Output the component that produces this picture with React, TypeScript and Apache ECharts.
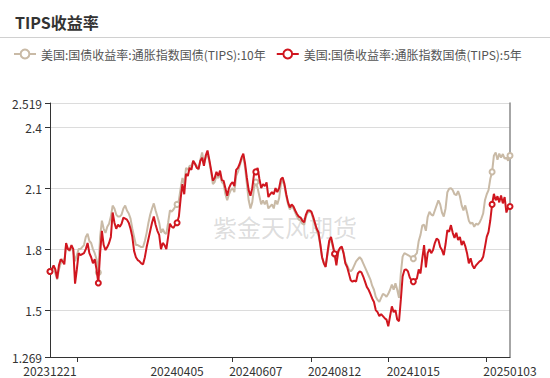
import React, { useEffect, useRef } from "react";
import * as echarts from "echarts";

const title = "TIPS收益率";
const seriesNames = ["美国:国债收益率:通胀指数国债(TIPS):10年", "美国:国债收益率:通胀指数国债(TIPS):5年"];
const watermark = "紫金天风期货";
const startDate = "20231221";
const endDate = "20250103";
const holidays = ["20231225", "20240101", "20240115", "20240219", "20240329", "20240527", "20240619", "20240704", "20240902", "20241014", "20241111", "20241128", "20241225", "20250101"];
const labelDates = ["20231221", "20240405", "20240607", "20240812", "20241015", "20250103"];
const tickIndices = [15, 102, 146, 189, 244];
const markerIndices = [0, 27, 71, 115, 159, 203, 247, 257];
const yMin = 1.269;
const yMax = 2.519;

// 10-year TIPS yield
const tips10 = [
  1.69, 1.70, 1.71, 1.68, 1.65, 1.70, 1.73, 1.75, 1.74, 1.82,
  1.80, 1.79, 1.81, 1.79, 1.74, 1.77, 1.80, 1.80, 1.81, 1.82,
  1.86, 1.876, 1.84, 1.83, 1.80, 1.78, 1.75, 1.685, 1.86, 1.94,
  1.90, 1.88, 1.91, 1.925, 1.96, 2.014, 2.00, 1.97, 1.96, 1.96,
  1.97, 2.00, 2.014, 1.99, 1.975, 1.95, 1.90, 1.86, 1.82, 1.82,
  1.815, 1.81, 1.81, 1.84, 1.88, 1.93, 1.97, 2.00, 2.025, 1.99,
  1.96, 1.93, 1.88, 1.90, 1.88, 1.875, 1.93, 1.99, 1.985, 1.995,
  2.01, 2.02, 2.04, 2.10, 2.15, 2.12, 2.20, 2.19, 2.21, 2.21,
  2.233, 2.22, 2.21, 2.19, 2.24, 2.276, 2.22, 2.25, 2.27, 2.23,
  2.18, 2.12, 2.13, 2.16, 2.15, 2.17, 2.13, 2.12, 2.07, 2.04,
  2.07, 2.09, 2.10, 2.08, 2.16, 2.18, 2.21, 2.24, 2.26, 2.20,
  2.12, 2.04, 2.00, 2.03, 2.10, 2.13, 2.10, 2.06, 2.02, 2.04,
  2.02, 2.04, 2.00, 2.01, 2.02, 2.00, 2.04, 2.02, 2.05, 2.12,
  2.14, 2.11, 2.06, 2.02, 1.995, 2.01, 2.00, 1.98, 1.96, 1.945,
  1.94, 1.925, 1.92, 1.96, 1.98, 1.985, 1.98, 1.95, 1.92, 1.89,
  1.87, 1.82, 1.76, 1.73, 1.715, 1.77, 1.83, 1.85, 1.81, 1.775,
  1.73, 1.78, 1.80, 1.81, 1.785, 1.74, 1.72, 1.70, 1.69, 1.70,
  1.72, 1.74, 1.75, 1.76, 1.75, 1.73, 1.71, 1.69, 1.67, 1.65,
  1.62, 1.60, 1.565, 1.55, 1.54, 1.56, 1.58, 1.575, 1.565, 1.58,
  1.60, 1.625, 1.60, 1.632, 1.60, 1.56, 1.68, 1.763, 1.78, 1.775,
  1.77, 1.765, 1.755, 1.753, 1.77, 1.78, 1.84, 1.87, 1.917, 1.92,
  1.89, 1.958, 1.983, 1.97, 1.965, 1.99, 2.015, 2.04, 2.02, 1.98,
  1.96, 2.00, 2.08, 2.097, 2.10, 2.09, 2.07, 2.065, 2.085, 2.06,
  2.015, 1.99, 2.015, 1.98, 1.94, 1.925, 1.93, 1.91, 1.925, 1.92,
  1.93, 1.95, 1.975, 2.04, 2.07, 2.09, 2.146, 2.18, 2.26, 2.276,
  2.24, 2.27, 2.25, 2.268, 2.245, 2.25, 2.235, 2.26,
];

// 5-year TIPS yield
const tips5 = [
  1.69, 1.70, 1.72, 1.70, 1.655, 1.72, 1.75, 1.74, 1.725, 1.83,
  1.80, 1.795, 1.82, 1.80, 1.63, 1.70, 1.78, 1.77, 1.775, 1.78,
  1.80, 1.83, 1.78, 1.76, 1.73, 1.75, 1.70, 1.633, 1.78, 1.89,
  1.82, 1.795, 1.81, 1.83, 1.86, 1.98, 1.93, 1.90, 1.92, 1.91,
  1.925, 1.955, 1.95, 1.945, 1.93, 1.90, 1.86, 1.79, 1.76, 1.746,
  1.74, 1.73, 1.725, 1.76, 1.81, 1.85, 1.89, 1.93, 1.96, 1.92,
  1.89, 1.87, 1.80, 1.83, 1.82, 1.80, 1.86, 1.925, 1.91, 1.905,
  1.92, 1.93, 1.96, 2.05, 2.12, 2.07, 2.17, 2.16, 2.20, 2.19,
  2.235, 2.22, 2.20, 2.195, 2.235, 2.25, 2.21, 2.26, 2.285, 2.24,
  2.19, 2.137, 2.15, 2.18, 2.16, 2.186, 2.14, 2.136, 2.10, 2.063,
  2.10, 2.12, 2.13, 2.11, 2.19, 2.20, 2.22, 2.25, 2.27, 2.22,
  2.15, 2.09, 2.063, 2.10, 2.17, 2.18, 2.20, 2.145, 2.10, 2.12,
  2.11, 2.128, 2.056, 2.07, 2.08, 2.07, 2.10, 2.08, 2.10, 2.144,
  2.152, 2.12, 2.07, 2.03, 2.005, 2.02, 2.01, 1.99, 1.973, 1.96,
  1.955, 1.94, 1.932, 1.97, 1.99, 1.99, 1.985, 1.96, 1.93, 1.90,
  1.883, 1.826, 1.76, 1.73, 1.712, 1.78, 1.842, 1.86, 1.82, 1.777,
  1.72, 1.79, 1.805, 1.813, 1.78, 1.73, 1.712, 1.68, 1.647, 1.64,
  1.645, 1.64, 1.68, 1.69, 1.685, 1.665, 1.64, 1.614, 1.60, 1.58,
  1.557, 1.54, 1.50, 1.49, 1.47, 1.48, 1.47, 1.46, 1.453, 1.42,
  1.47, 1.518, 1.49, 1.50, 1.453, 1.445, 1.55, 1.665, 1.697, 1.70,
  1.69, 1.66, 1.645, 1.64, 1.65, 1.655, 1.70, 1.68, 1.754, 1.82,
  1.71, 1.78, 1.80, 1.78, 1.795, 1.83, 1.852, 1.845, 1.81, 1.795,
  1.77, 1.825, 1.893, 1.885, 1.918, 1.88, 1.855, 1.88, 1.845, 1.86,
  1.82, 1.84, 1.815, 1.78, 1.73, 1.755, 1.72, 1.705, 1.72, 1.73,
  1.74, 1.745, 1.762, 1.81, 1.86, 1.885, 1.942, 2.02, 2.072, 2.04,
  2.06, 2.03, 2.064, 2.025, 2.056, 1.98, 2.005, 2.01,
];

const colors = ["#c9baa6", "#d0161f"];

function fmt(d: Date): string {
  const y = d.getUTCFullYear();
  const m = String(d.getUTCMonth() + 1).padStart(2, "0");
  const dd = String(d.getUTCDate()).padStart(2, "0");
  return `${y}${m}${dd}`;
}

function buildDates(): string[] {
  const parse = (s: string) => Date.UTC(+s.slice(0, 4), +s.slice(4, 6) - 1, +s.slice(6, 8));
  const out: string[] = [];
  for (let t = parse(startDate); t <= parse(endDate); t += 86400000) {
    const d = new Date(t);
    const wd = d.getUTCDay();
    if (wd === 0 || wd === 6) continue;
    const s = fmt(d);
    if (holidays.includes(s)) continue;
    out.push(s);
  }
  return out;
}

const font = "'Microsoft YaHei', 'Noto Sans CJK SC', 'Noto Sans', sans-serif";

export default function App() {
  const ref = useRef<HTMLDivElement>(null);
  useEffect(() => {
    document.body.style.margin = "0";
    if (!ref.current) return;
    const chart = echarts.init(ref.current, undefined, { renderer: "svg" });
    const dates = buildDates();
    const labelSet = new Set(labelDates);
    const tickSet = new Set(tickIndices);
    const markerSet = new Set(markerIndices);
    const mkSeries = (name: string, data: number[], color: string, z: number) => ({
      name,
      type: "line",
      data,
      z,
      showSymbol: true,
      showAllSymbol: true,
      symbol: "emptyCircle",
      symbolSize: (_v: any, p: any) => (markerSet.has(p.dataIndex) ? 5 : 0),
      itemStyle: { color, borderWidth: 1 },
      lineStyle: { color, width: 2 },
      emphasis: { disabled: true },
    });
    chart.setOption({
      animation: false,
      backgroundColor: "#fff",
      textStyle: { fontFamily: font },
      title: {
        text: title,
        left: 10,
        top: 9,
        textStyle: { fontSize: 16, fontWeight: "bold", color: "#333", fontFamily: font },
      },
      legend: {
        left: 8,
        top: 43,
        itemWidth: 22,
        itemHeight: 11,
        itemGap: 10,
        textStyle: { fontSize: 12, color: "#555", fontFamily: font },
        data: seriesNames,
      },
      graphic: [
        {
          type: "line",
          shape: { x1: 0, y1: 37.5, x2: 550, y2: 37.5 },
          style: { stroke: "#d0d0d0", lineWidth: 1 },
          z: 1,
        },
        {
          type: "text",
          x: 285,
          y: 226,
          z: 0,
          zlevel: 0,
          style: {
            text: watermark,
            fontSize: 24,
            fill: "rgba(150,150,150,0.32)",
            align: "center",
            verticalAlign: "middle",
            fontFamily: font,
          },
        },
      ],
      grid: { left: 50, right: 40, top: 103, bottom: 21, containLabel: false },
      xAxis: {
        type: "category",
        data: dates,
        boundaryGap: false,
        axisLine: { lineStyle: { color: "#333" } },
        axisTick: {
          show: true,
          interval: (i: number) => tickSet.has(i),
          length: 5,
          lineStyle: { color: "#333" },
        },
        axisLabel: {
          interval: (_i: number, v: string) => labelSet.has(v),
          color: "#333",
          fontSize: 12,
          lineHeight: 12,
          margin: 7,
          fontFamily: font,
          hideOverlap: false,
        },
        splitLine: { show: false },
      },
      yAxis: [
        {
          type: "value",
          min: yMin,
          max: yMax,
          splitNumber: 4,
          axisLine: { show: true, lineStyle: { color: "#333" } },
          axisTick: { show: true, length: 5, lineStyle: { color: "#333" } },
          axisLabel: { color: "#333", fontSize: 12, lineHeight: 12, margin: 8, fontFamily: font, showMinLabel: true, showMaxLabel: true },
          splitLine: { show: true, lineStyle: { color: "#dcdcdc", width: 1 } },
        },
        {
          type: "value",
          position: "right",
          min: yMin,
          max: yMax,
          splitNumber: 4,
          axisLine: { show: true, lineStyle: { color: "#888", width: 1.5 } },
          axisTick: { show: false },
          axisLabel: { show: false },
          splitLine: { show: false },
        },
      ],
      series: [
        mkSeries(seriesNames[0], tips10, colors[0], 2),
        mkSeries(seriesNames[1], tips5, colors[1], 3),
      ],
    });
    return () => chart.dispose();
  }, []);
  return <div ref={ref} style={{ width: 550, height: 378 }} />;
}
